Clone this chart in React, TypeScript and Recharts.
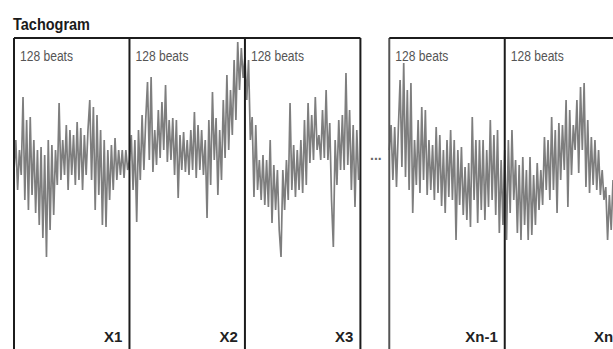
import React from 'react';
import { ComposedChart, Line, XAxis, YAxis, ReferenceLine, ReferenceArea } from 'recharts';

// RR intervals (ms), one value every 2 beats
const seg1 = [
  660, 720, 620, 700, 650, 806, 600, 760, 580, 766, 610, 720, 574, 700, 550, 706,
  524, 690, 486, 720, 540, 710, 570, 700, 630, 794, 640, 720, 650, 750, 620, 740,
  650, 730, 630, 756, 640, 744, 620, 730, 650, 740, 800, 640, 786, 580, 770, 610,
  740, 550, 720, 546, 700, 600, 710, 620, 724, 640, 700, 650, 700, 644, 700, 660,
];
const seg2 = [
  680, 730, 620, 720, 556, 740, 640, 770, 660, 760, 836, 680, 846, 656, 740, 670,
  780, 684, 796, 700, 830, 676, 760, 680, 764, 650, 760, 604, 730, 660, 736, 656,
  720, 650, 740, 660, 776, 644, 750, 660, 740, 650, 720, 564, 760, 630, 816, 680,
  764, 610, 740, 640, 800, 684, 850, 700, 820, 730, 880, 760, 916, 820, 904, 844,
];
const seg3 = [
  886, 800, 880, 720, 766, 606, 750, 620, 680, 600, 690, 590, 680, 586, 720, 554,
  670, 580, 660, 540, 486, 660, 580, 680, 600, 794, 620, 710, 606, 700, 620, 720,
  614, 760, 630, 794, 674, 770, 680, 806, 700, 730, 680, 780, 684, 820, 680, 754,
  600, 506, 720, 630, 760, 660, 770, 660, 854, 670, 780, 620, 750, 586, 740, 640,
];
const segN1 = [
  700, 750, 640, 746, 626, 740, 840, 666, 874, 646, 820, 620, 834, 574, 720, 630,
  760, 614, 786, 640, 780, 610, 720, 620, 710, 600, 746, 614, 730, 588, 700, 574,
  720, 606, 740, 600, 720, 520, 700, 590, 706, 570, 666, 560, 674, 546, 766, 600,
  720, 554, 720, 580, 720, 560, 700, 586, 760, 600, 730, 570, 740, 534, 680, 550,
];
const segN = [
  700, 520, 720, 574, 740, 600, 680, 534, 670, 520, 686, 550, 660, 520, 686, 530,
  650, 550, 674, 580, 660, 590, 726, 620, 720, 600, 766, 620, 740, 574, 754, 640,
  750, 660, 800, 586, 780, 650, 750, 700, 800, 654, 826, 700, 834, 626, 760, 614,
  726, 630, 720, 620, 700, 610, 660, 600, 626, 520, 610, 540, 640, 560, 650, 590,
];

const segStarts = [0, 128, 256, 416, 544];
const segNames = ['X1', 'X2', 'X3', 'Xn-1', 'Xn'];
const BEATS = 128;
const STEP = 2;
const GAP_START = 384;
const GAP_END = 416;
const X_MAX = 664;
const RR_MIN = 302;
const RR_MAX = 1000;
const TOP = 924;

const left = [...seg1, ...seg2, ...seg3].map((rr, i) => ({ beat: i * STEP, rr }));
const right = [...segN1, ...segN].map((rr, i) => ({ beat: GAP_END + i * STEP, rr }));
const data = [...left, { beat: (GAP_START + GAP_END) / 2, rr: null }, ...right];

const FONT = '"Liberation Sans", Arial, sans-serif';

function SegLabel(props: any) {
  const { viewBox, name, first } = props;
  if (!viewBox) return null;
  const { x, y, width, height } = viewBox;
  return (
    <g style={{ fontFamily: FONT }}>
      {first && (
        <text x={x - 1} y={y - 8} fontSize={17} fontWeight="bold" fill="#1a1a1a"
          textLength={77} lengthAdjust="spacingAndGlyphs">Tachogram</text>
      )}
      <text x={x + 6} y={y + 23} fontSize={14} fill="#555"
        textLength={53} lengthAdjust="spacingAndGlyphs">128 beats</text>
      <text x={x + width - 7} y={y + height - 7} fontSize={15} fontWeight="bold"
        fill="#222" textAnchor="end">{name}</text>
    </g>
  );
}

function GapLabel(props: any) {
  const { viewBox } = props;
  if (!viewBox) return null;
  return (
    <text x={viewBox.x + viewBox.width / 2 + 1} y={160} fontSize={14} fontWeight="bold" fill="#666"
      textAnchor="middle" style={{ fontFamily: FONT }}>...</text>
  );
}

export default function App() {
  return (
    <div style={{ position: 'absolute', left: 0, top: 0, width: 613, height: 349, background: '#fff' }}>
      <ComposedChart width={613} height={349} data={data}
        margin={{ top: 0, right: 0, bottom: 0, left: 14 }}>
        <XAxis dataKey="beat" type="number" domain={[0, X_MAX]} allowDataOverflow hide />
        <YAxis type="number" domain={[RR_MIN, RR_MAX]} allowDataOverflow hide />
        {segStarts.map((s, i) => (
          <ReferenceArea key={'a' + s} x1={s} x2={s + BEATS} y1={RR_MIN} y2={TOP}
            fill="none" stroke="none" ifOverflow="visible"
            label={<SegLabel name={segNames[i]} first={i === 0} />} />
        ))}
        <ReferenceArea x1={GAP_START} x2={GAP_END} y1={RR_MIN} y2={TOP}
          fill="none" stroke="none" label={<GapLabel />} />
        <Line dataKey="rr" type="linear" stroke="#7e7e7e" strokeWidth={1.7}
          strokeLinejoin="miter" dot={false} connectNulls={false} isAnimationActive={false} />
        {[0, 128, 256, 384, 416, 544].map((b) => (
          <ReferenceLine key={'v' + b} segment={[{ x: b, y: TOP }, { x: b, y: RR_MIN }]}
            stroke={b === GAP_END ? '#555' : '#1c1c1c'} strokeWidth={2} ifOverflow="visible" />
        ))}
        <ReferenceLine segment={[{ x: 0, y: TOP }, { x: GAP_START, y: TOP }]}
          stroke="#1c1c1c" strokeWidth={2} ifOverflow="visible" />
        <ReferenceLine segment={[{ x: GAP_END, y: TOP }, { x: X_MAX, y: TOP }]}
          stroke="#1c1c1c" strokeWidth={2} ifOverflow="visible" />
      </ComposedChart>
    </div>
  );
}
